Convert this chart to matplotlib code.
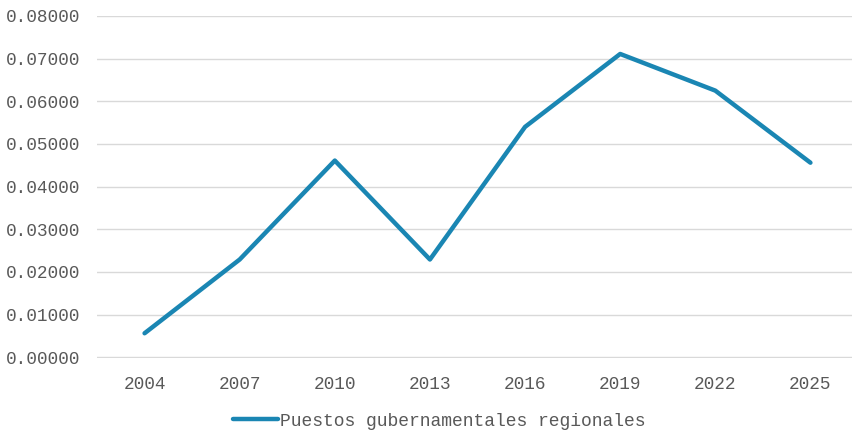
import matplotlib.pyplot as plt
import numpy as np

years = ["2004", "2007", "2010", "2013", "2016", "2019", "2022", "2025"]
values = [0.0056, 0.0229, 0.0461, 0.0229, 0.0540, 0.0711, 0.0625, 0.0456]
series_label = "Puestos gubernamentales regionales"

LINE_COLOR = "#1a86b3"
TEXT_COLOR = "#595959"
GRID_COLOR = "#d9d9d9"

plt.rcParams["font.family"] = ["Liberation Mono", "DejaVu Sans Mono"]

W, H = 853, 433
fig = plt.figure(figsize=(W / 100, H / 100), dpi=100)
ax = fig.add_axes([97 / W, 1 - 358 / H, (858 - 97) / W, (358 - 16) / H])

x = np.arange(len(years))
ax.plot(x, values, color=LINE_COLOR, linewidth=3.2, solid_capstyle="round",
        solid_joinstyle="round", label=series_label, zorder=3)

ax.set_xlim(-0.5, len(years) - 0.5)
ax.set_ylim(-0.0002, 0.08)
yt = np.arange(0, 0.0801, 0.01)
ax.set_yticks(yt)
ax.set_yticklabels([f"{v:.5f}" for v in yt])
ax.set_xticks(x)
ax.set_xticklabels(years)

ax.grid(axis="y", color=GRID_COLOR, linewidth=1)
ax.set_axisbelow(True)
for s in ax.spines.values():
    s.set_visible(False)
ax.tick_params(length=0, colors=TEXT_COLOR, labelsize=12.8)
ax.tick_params(axis="y", pad=12)
ax.tick_params(axis="x", pad=13)

leg = fig.legend(loc="center", bbox_to_anchor=(0.515, 1 - 421 / H), frameon=False,
                 fontsize=13, handlelength=2.5, handletextpad=0.1)
for t in leg.get_texts():
    t.set_color(TEXT_COLOR)

fig.savefig("out.png", dpi=100)
